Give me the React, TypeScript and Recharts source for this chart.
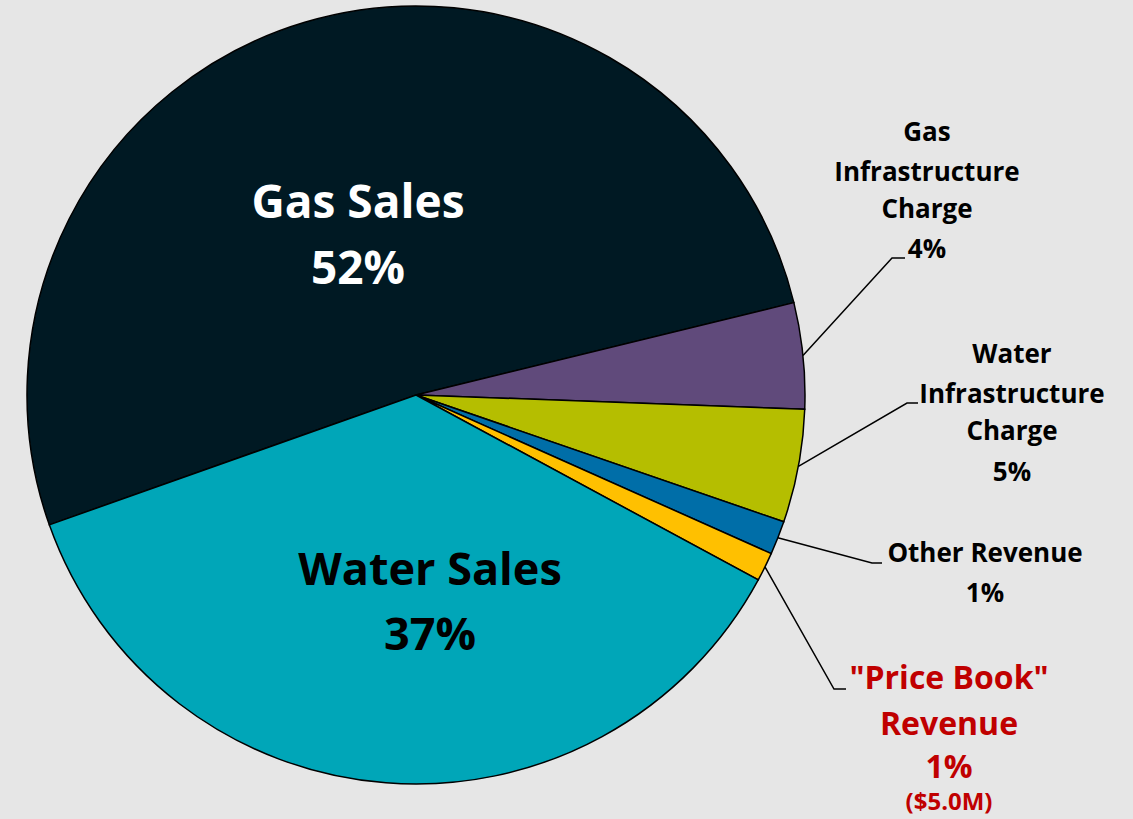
import { Cell, Pie, PieChart } from 'recharts'

// Revenue mix pie — share of total revenue by source

const categories = [
  'Gas Sales',
  'Gas Infrastructure Charge',
  'Water Infrastructure Charge',
  'Other Revenue',
  '"Price Book" Revenue',
  'Water Sales',
]
const shares = [51.6, 4.4, 4.7, 1.4, 1.2, 36.7]
const pctLabels = ['52%', '4%', '5%', '1%', '1%', '37%']
const labelText = [
  ['Gas Sales'],
  ['Gas', 'Infrastructure', 'Charge'],
  ['Water', 'Infrastructure', 'Charge'],
  ['Other Revenue'],
  ['"Price Book"', 'Revenue'],
  ['Water Sales'],
]
const notes = ['', '', '', '', '($5.0M)', '']

const COLORS = ['#001923', '#604a7b', '#b5be00', '#006ea8', '#ffc000', '#00a6b8']
const FONT = '"Open Sans", Lato, sans-serif'

// label placement (pixel layout, not data)
type Layout = {
  x: number
  ys: number[]
  size: number
  color: string
  inside?: boolean
  elbow?: [number, number]
  end?: number
  noteSize?: number
}
const LAYOUT: Layout[] = [
  { inside: true, x: 358, ys: [218, 284], size: 46, color: '#ffffff' },
  { x: 927, ys: [141, 181, 218, 258], size: 26, color: '#000000', elbow: [892, 258], end: 905 },
  { x: 1012, ys: [363, 403, 440, 481], size: 26, color: '#000000', elbow: [907, 403], end: 918 },
  { x: 985, ys: [562, 602], size: 26, color: '#000000', elbow: [872, 563], end: 882 },
  { x: 949, ys: [689, 735, 778, 810], size: 32, noteSize: 24, color: '#c00000', elbow: [834, 689], end: 846 },
  { inside: true, x: 430, ys: [585, 650], size: 45, color: '#000000' },
]

const data = categories.map((name, i) => ({ name, value: shares[i] }))

const RAD = Math.PI / 180

function renderLabel(props: any) {
  const { cx, cy, midAngle, outerRadius, index } = props
  const lay = LAYOUT[index]
  const lines = [...labelText[index], pctLabels[index]]
  if (notes[index]) lines.push(notes[index])
  let leader = null
  if (!lay.inside && lay.elbow) {
    const sx = cx + outerRadius * Math.cos(-midAngle * RAD)
    const sy = cy + outerRadius * Math.sin(-midAngle * RAD)
    leader = (
      <polyline
        points={`${sx},${sy} ${lay.elbow[0]},${lay.elbow[1]} ${lay.end},${lay.elbow[1]}`}
        fill="none"
        stroke="#000"
        strokeWidth={1.5}
      />
    )
  }
  return (
    <g key={`lbl-${index}`}>
      {leader}
      <text textAnchor="middle" fill={lay.color} fontFamily={FONT} fontWeight={700}>
        {lines.map((t, j) => (
          <tspan
            key={j}
            x={lay.x}
            y={lay.ys[j]}
            fontSize={notes[index] && j === lines.length - 1 ? lay.noteSize : lay.size}
          >
            {t}
          </tspan>
        ))}
      </text>
    </g>
  )
}

export default function App() {
  return (
    <div style={{ position: 'absolute', left: 0, top: 0, width: 1133, height: 819, background: '#e6e6e6' }}>
      <PieChart width={1133} height={819} margin={{ top: 0, right: 0, bottom: 0, left: 0 }}>
        <Pie
          data={data}
          dataKey="value"
          nameKey="name"
          cx={416}
          cy={395}
          outerRadius={389}
          startAngle={199.5}
          endAngle={-160.5}
          stroke="#000"
          strokeWidth={1.5}
          label={renderLabel}
          labelLine={false}
          isAnimationActive={false}
        >
          {data.map((_, i) => (
            <Cell key={i} fill={COLORS[i]} />
          ))}
        </Pie>
      </PieChart>
    </div>
  )
}
